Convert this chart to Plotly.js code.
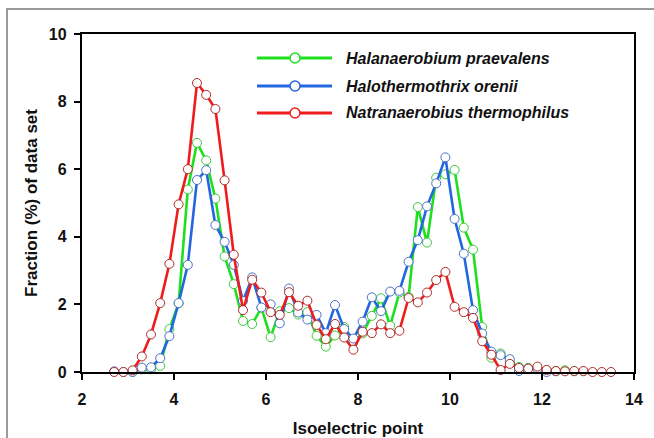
<!DOCTYPE html>
<html>
<head>
<meta charset="utf-8">
<script src="https://cdn.plot.ly/plotly-3.0.1.min.js"></script>
<style>
html,body{margin:0;padding:0;background:#fff;}
#chart{width:654px;height:438px;}
</style>
</head>
<body>
<div id="chart"></div>
<script>
// Isoelectric point bins
var pI = [2.7,2.9,3.1,3.3,3.5,3.7,3.9,4.1,4.3,4.5,4.7,4.9,5.1,5.3,5.5,5.7,5.9,6.1,6.3,6.5,
          6.7,6.9,7.1,7.3,7.5,7.7,7.9,8.1,8.3,8.5,8.7,8.9,9.1,9.3,9.5,9.7,9.9,10.1,10.3,10.5,
          10.7,10.9,11.1,11.3,11.5,11.7,11.9,12.1,12.3,12.5,12.7,12.9,13.1,13.3,13.5];

var seriesNames = ["Halanaerobium praevalens", "Halothermothrix orenii", "Natranaerobius thermophilus"];

// Fraction (%) of data set
var halanaerobium = [null,null,0.0,0.08,0.08,0.18,1.27,2.03,5.4,6.78,6.26,5.13,3.42,2.6,1.51,1.42,1.9,1.03,1.8,1.89,
                     1.7,1.77,1.07,0.75,1.08,1.33,0.9,1.14,1.66,2.18,1.37,2.35,2.22,4.88,3.83,5.75,5.85,5.98,4.27,3.62,
                     1.33,0.42,0.55,0.3,0.15,0.12,0.1,0.05,0.03,0.05,0.02,0.02,null,null,null];
var halothermothrix = [0.02,0.0,0.0,0.13,0.14,0.41,1.06,2.04,3.17,5.68,5.97,4.35,3.85,3.17,2.1,2.8,1.91,2.0,1.44,2.47,
                       1.76,1.55,1.69,1.15,1.98,1.27,0.99,1.49,2.21,1.8,2.38,2.4,3.26,3.9,4.9,5.58,6.35,4.53,3.5,1.83,
                       1.14,0.6,0.5,0.38,0.03,0.1,0.1,0.0,0.02,null,null,null,null,null,null];
var natranaerobius = [0.0,0.0,0.05,0.46,1.11,2.04,3.2,4.96,6.0,8.55,8.2,7.78,5.67,3.47,1.83,2.73,2.35,1.77,1.69,2.36,
                      1.96,2.11,1.39,0.97,1.42,1.02,0.66,1.19,1.15,1.41,1.15,1.22,2.19,2.06,2.35,2.72,2.96,1.93,1.77,1.6,
                      0.91,0.51,0.06,0.24,0.12,0.1,0.16,0.06,0.03,0.02,0.03,0.03,0.0,0.0,0.0];

var xTicks = [2,4,6,8,10,12,14];
var yTicks = [0,2,4,6,8,10];

var lineColors = ["#1ee01e", "#2266e0", "#ee1c1c"];
var markerEdge = ["#3cc83c", "#4a72c8", "#b02a2a"];
var seriesValues = [halanaerobium, halothermothrix, natranaerobius];

var traces = seriesValues.map(function(v, i){
  return {
    x: pI, y: v, name: seriesNames[i], type: "scatter", mode: "lines+markers",
    line: {color: lineColors[i], width: 2.6},
    marker: {symbol: "circle", size: 9, color: "#ffffff", line: {color: markerEdge[i], width: 1}},
    showlegend: false, cliponaxis: false
  };
});

// plot-area pixel geometry
var L = 82, R = 20, T = 34, B = 66, W = 654, H = 438;
var pw = W - L - R, ph = H - T - B;
function px(x){ return (x - L) / pw; }
function py(y){ return (H - B - y) / ph; }

var shapes = [
  // outer gray frame
  {type:"rect", xref:"paper", yref:"paper", x0:px(7), x1:px(700), y0:py(480), y1:py(9),
   line:{color:"#7a7a7a", width:1.5}, layer:"below"}
];
var annotations = [];
var legRows = [58, 86, 113];
for (var i = 0; i < 3; i++) {
  shapes.push({type:"line", xref:"paper", yref:"paper", x0:px(257), x1:px(332), y0:py(legRows[i]), y1:py(legRows[i]),
               line:{color:lineColors[i], width:3}});
  shapes.push({type:"circle", xref:"paper", yref:"paper", xsizemode:"pixel", ysizemode:"pixel",
               xanchor:px(295), yanchor:py(legRows[i]), x0:-5, x1:5, y0:-5, y1:5,
               fillcolor:"#ffffff", line:{color:lineColors[i], width:1.5}});
  annotations.push({xref:"paper", yref:"paper", x:px(344), y:py(legRows[i]), xanchor:"left", yanchor:"middle",
                    text:"<b><i>" + seriesNames[i] + "</i></b>", showarrow:false,
                    font:{family:"Liberation Sans, Arial, sans-serif", size:16, color:"#111"}});
}

var layout = {
  width: W, height: H,
  margin: {l: L, r: R, t: T, b: B, pad: 0},
  paper_bgcolor: "#ffffff", plot_bgcolor: "#ffffff",
  font: {family: "Liberation Sans, Arial, sans-serif", color: "#111"},
  showlegend: false,
  xaxis: {
    range: [2, 14], tickvals: xTicks, ticktext: xTicks.map(function(t){ return "<b>" + t + "</b>"; }),
    showgrid: false, zeroline: false, showline: true, mirror: true,
    linecolor: "#000", linewidth: 2.2, ticks: "outside", ticklen: 6, tickwidth: 2, tickcolor: "#000",
    tickfont: {size: 16, color: "#111"}, ticklabelstandoff: 6,
    title: {text: "<b>Isoelectric point</b>", font: {size: 17, color: "#111"}, standoff: 17}
  },
  yaxis: {
    range: [0, 10], tickvals: yTicks, ticktext: yTicks.map(function(t){ return "<b>" + t + "</b>"; }),
    showgrid: false, zeroline: false, showline: true, mirror: true,
    linecolor: "#000", linewidth: 2.2, ticks: "outside", ticklen: 6, tickwidth: 2, tickcolor: "#000",
    tickfont: {size: 16, color: "#111"}, ticklabelstandoff: 4,
    title: {text: "<b>Fraction (%) of data set</b>", font: {size: 17, color: "#111"}, standoff: 7}
  },
  shapes: shapes,
  annotations: annotations
};

Plotly.newPlot("chart", traces, layout, {staticPlot: true, displayModeBar: false});
</script>
</body>
</html>
